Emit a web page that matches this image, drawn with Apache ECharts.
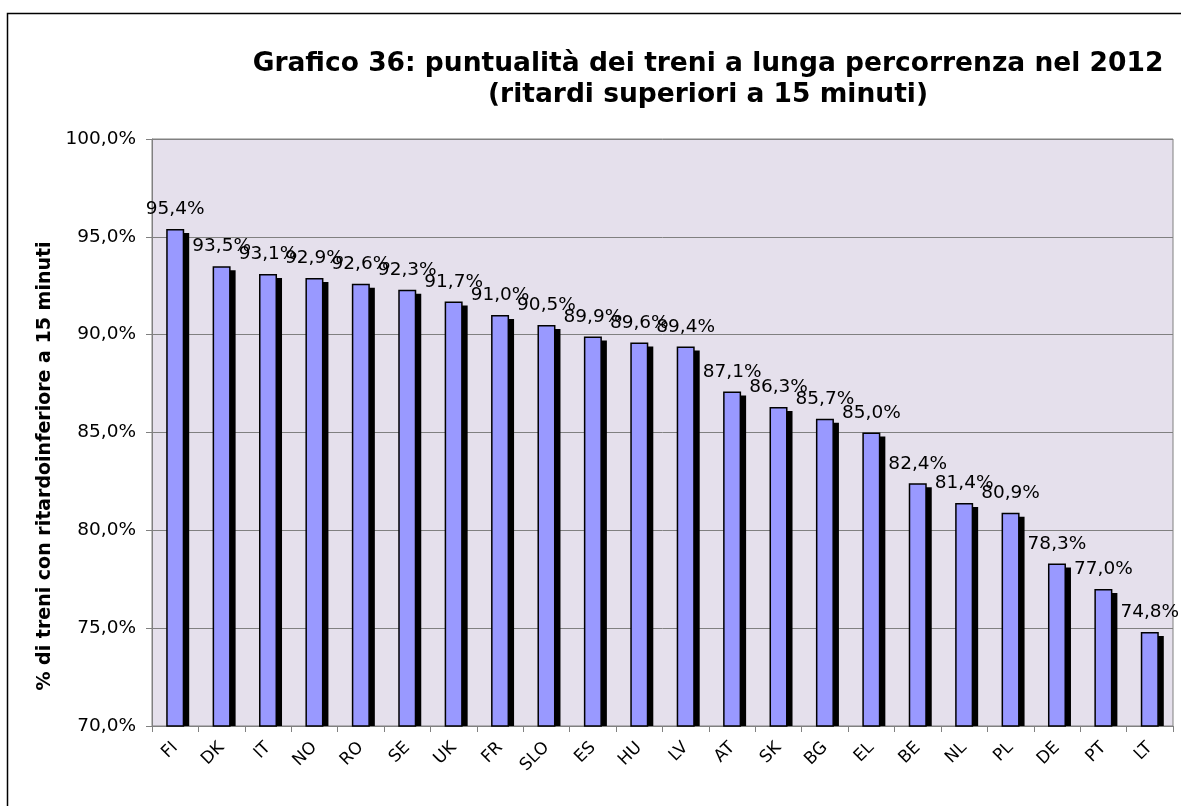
<!DOCTYPE html>
<html>
<head>
<meta charset="utf-8">
<script src="https://cdn.jsdelivr.net/npm/echarts@6/dist/echarts.min.js"></script>
<style>
  html, body { margin: 0; padding: 0; background: #fff; }
  #chart { width: 1181px; height: 806px; }
</style>
</head>
<body>
<div id="chart"></div>
<script>
// paesi e puntualita' (% di treni con ritardo inferiore a 15 minuti)
var paesi = ['FI', 'DK', 'IT', 'NO', 'RO', 'SE', 'UK', 'FR', 'SLO', 'ES', 'HU', 'LV', 'AT', 'SK', 'BG', 'EL', 'BE', 'NL', 'PL', 'DE', 'PT', 'LT'];
var puntualita = [95.4, 93.5, 93.1, 92.9, 92.6, 92.3, 91.7, 91.0, 90.5, 89.9, 89.6, 89.4, 87.1, 86.3, 85.7, 85.0, 82.4, 81.4, 80.9, 78.3, 77.0, 74.8];
var yMin = 70, yMax = 100, yStep = 5;

var titolo = 'Grafico 36: puntualità dei treni a lunga percorrenza nel 2012\n(ritardi superiori a 15 minuti)';
var nomeAsseY = '% di treni con ritardoinferiore a 15 minuti';

var font = 'DejaVu Sans, Verdana, sans-serif';
var larghezzaBarra = 18;

function fmt(v) {
  return v.toFixed(1).replace('.', ',') + '%';
}

// ombra nera delle barre (stile Excel), disegnata dietro le barre
function disegnaOmbra(params, api) {
  var top = api.coord([api.value(0), api.value(1)]);
  var base = api.coord([api.value(0), yMin]);
  var dx = 5, dy = 4;
  return {
    type: 'rect',
    shape: {
      x: top[0] - larghezzaBarra / 2 + dx,
      y: top[1] + dy,
      width: larghezzaBarra,
      height: Math.max(0, base[1] - top[1] - dy)
    },
    style: { fill: '#000' }
  };
}

var myChart = echarts.init(document.getElementById('chart'));
var option = {
  animation: false,
  backgroundColor: '#ffffff',
  title: {
    text: titolo,
    left: 703,
    top: 44,
    textAlign: 'center',
    textStyle: {
      fontFamily: font,
      fontSize: 26.5,
      fontWeight: 'bold',
      color: '#000',
      lineHeight: 31
    }
  },
  grid: {
    left: 152,
    top: 139,
    right: 8,
    bottom: 80,
    show: true,
    backgroundColor: '#E5E0EC',
    borderColor: '#808080',
    borderWidth: 1
  },
  xAxis: {
    type: 'category',
    data: paesi,
    axisLine: { lineStyle: { color: '#808080', width: 1 } },
    axisTick: { show: true, length: 6, interval: 0, lineStyle: { color: '#808080' } },
    axisLabel: {
      interval: 0,
      rotate: 45,
      margin: 19,
      fontFamily: font,
      fontSize: 17,
      color: '#000'
    }
  },
  yAxis: {
    type: 'value',
    min: yMin,
    max: yMax,
    interval: yStep,
    axisLine: { show: true, lineStyle: { color: '#808080', width: 1 } },
    axisTick: { show: true, length: 6, lineStyle: { color: '#808080' } },
    splitLine: { show: true, lineStyle: { color: '#808080', width: 1 } },
    axisLabel: {
      margin: 16,
      fontFamily: font,
      fontSize: 18.5,
      color: '#000',
      formatter: fmt
    }
  },
  series: [
    {
      name: 'ombra',
      type: 'custom',
      z: 1,
      silent: true,
      renderItem: disegnaOmbra,
      encode: { x: 0, y: 1 },
      data: puntualita.map(function (v, i) { return [i, v]; })
    },
    {
      name: 'puntualità',
      type: 'bar',
      z: 2,
      data: puntualita,
      barWidth: larghezzaBarra,
      itemStyle: {
        color: '#9999FF',
        borderColor: '#000',
        borderWidth: 1.5
      },
      label: {
        show: true,
        position: 'top',
        distance: 10,
        fontFamily: font,
        fontSize: 18.5,
        color: '#000',
        formatter: function (p) { return fmt(p.value); }
      }
    }
  ],
  graphic: [
    {
      type: 'text',
      x: 45,
      y: 466,
      rotation: Math.PI / 2,
      style: {
        text: nomeAsseY,
        align: 'center',
        verticalAlign: 'middle',
        fontFamily: font,
        fontSize: 19,
        fontWeight: 'bold',
        fill: '#000'
      }
    },
    {
      type: 'polyline',
      shape: { points: [[7.5, 806], [7.5, 13.5], [1181, 13.5]] },
      style: { stroke: '#000', lineWidth: 1.5, fill: null }
    }
  ]
};
myChart.setOption(option);
</script>
</body>
</html>
